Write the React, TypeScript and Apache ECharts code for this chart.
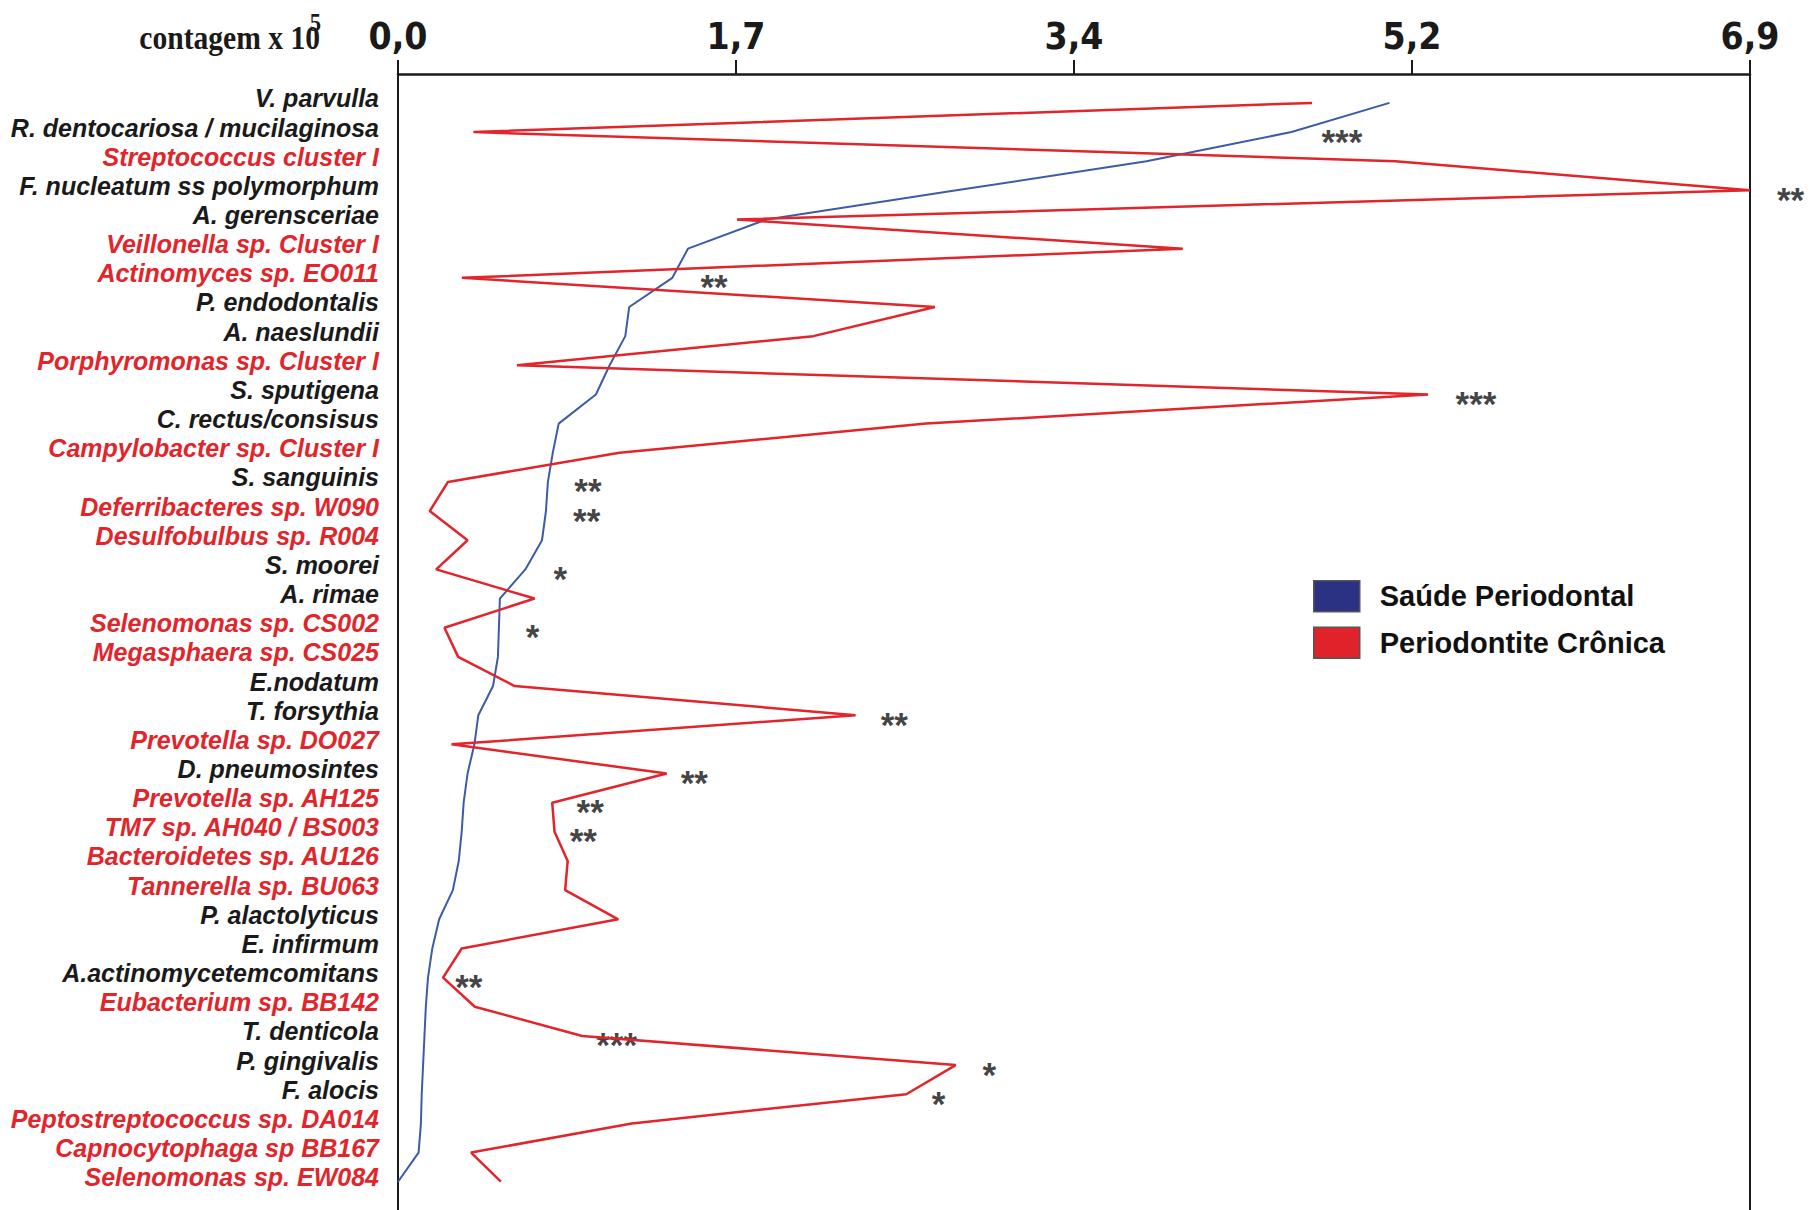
import React, { useEffect, useRef } from "react";
import * as echarts from "echarts";

const categories: string[] = [
  "V. parvulla",
  "R. dentocariosa / mucilaginosa",
  "Streptococcus cluster I",
  "F. nucleatum ss polymorphum",
  "A. gerensceriae",
  "Veillonella sp. Cluster I",
  "Actinomyces sp. EO011",
  "P. endodontalis",
  "A. naeslundii",
  "Porphyromonas sp. Cluster I",
  "S. sputigena",
  "C. rectus/consisus",
  "Campylobacter sp. Cluster I",
  "S. sanguinis",
  "Deferribacteres sp. W090",
  "Desulfobulbus sp. R004",
  "S. moorei",
  "A. rimae",
  "Selenomonas sp. CS002",
  "Megasphaera sp. CS025",
  "E.nodatum",
  "T. forsythia",
  "Prevotella sp. DO027",
  "D. pneumosintes",
  "Prevotella sp. AH125",
  "TM7 sp. AH040 / BS003",
  "Bacteroidetes sp. AU126",
  "Tannerella sp. BU063",
  "P. alactolyticus",
  "E. infirmum",
  "A.actinomycetemcomitans",
  "Eubacterium sp. BB142",
  "T. denticola",
  "P. gingivalis",
  "F. alocis",
  "Peptostreptococcus sp. DA014",
  "Capnocytophaga sp BB167",
  "Selenomonas sp. EW084",
];

const redCategory: boolean[] = [
  false, false, true, false, false, true, true, false, false, true,
  false, false, true, false, true, true, false, false, true, true,
  false, false, true, false, true, true, true, true, false, false,
  false, true, false, false, false, true, true, true,
];

const saudePeriodontal: number[] = [
  5.06, 4.56, 3.82, 2.85, 1.88, 1.48, 1.4, 1.18, 1.16, 1.08,
  1.01, 0.82, 0.79, 0.765, 0.755, 0.735, 0.65, 0.52, 0.515, 0.51,
  0.485, 0.41, 0.39, 0.355, 0.335, 0.325, 0.31, 0.28, 0.21, 0.175,
  0.153, 0.142, 0.135, 0.128, 0.121, 0.117, 0.105, 0.0,
];

const periodontiteCronica: number[] = [
  4.665, 0.385, 5.09, 6.9, 1.73, 4.005, 0.326, 2.74, 2.12, 0.607,
  5.257, 2.696, 1.13, 0.255, 0.162, 0.355, 0.195, 0.697, 0.237, 0.307,
  0.595, 2.335, 0.273, 1.371, 0.787, 0.799, 0.866, 0.853, 1.124, 0.325,
  0.23, 0.392, 0.94, 2.846, 2.594, 1.193, 0.373, 0.525,
];

const xTickLabels: string[] = ["0,0", "1,7", "3,4", "5,2", "6,9"];

const annotationRows: number[] = [2, 4, 7, 11, 14, 15, 17, 19, 22, 24, 25, 26, 31, 33, 34, 35];
const annotationValues: number[] = [
  4.71, 7.035, 1.541, 5.395, 0.897, 0.891, 0.791, 0.649, 2.461, 1.44, 0.909, 0.874, 0.289, 1.009, 2.981, 2.721,
];
const annotationMarks: string[] = [
  "***", "**", "**", "***", "**", "**", "*", "*", "**", "**", "**", "**", "**", "***", "*", "*",
];

const SANS = '"Liberation Sans", Arial, Helvetica, sans-serif';
const NARROW = '"Liberation Sans Narrow", "DejaVu Sans Condensed", "Arial Narrow", sans-serif';
const SERIF = '"Liberation Serif", "Times New Roman", serif';
const INK = "#1a1a1a";
const RED = "#e2242b";
const BLUE = "#3d5ba6";

export default function App() {
  const ref = useRef<HTMLDivElement>(null);

  useEffect(() => {
    if (!ref.current) return;
    const chart = echarts.init(ref.current, null, { renderer: "svg" });
    const xMax = 6.9;
    const step = xMax / 4;
    const labelStyle = {
      fontFamily: SANS,
      fontStyle: "italic",
      fontWeight: "bold",
      fontSize: 25,
    };
    chart.setOption({
      animation: false,
      backgroundColor: "#ffffff",
      grid: [
        { left: 398, right: 63, top: 74, bottom: 0 },
        { left: 398, right: 63, top: 88.3, bottom: 13.7 },
      ],
      xAxis: [
        {
          gridIndex: 0,
          type: "value",
          position: "top",
          min: 0,
          max: xMax,
          interval: step,
          axisLine: { show: true, onZero: false, lineStyle: { color: INK, width: 2.5 } },
          axisTick: { show: true, length: 14, lineStyle: { color: INK, width: 2 } },
          axisLabel: {
            formatter: (v: number) => xTickLabels[Math.round(v / step)] ?? "",
            fontFamily: NARROW,
            fontWeight: "bold",
            fontSize: 37,
            color: INK,
            margin: 19,
          },
          splitLine: { show: false },
        },
        { gridIndex: 1, type: "value", min: 0, max: xMax, show: false },
      ],
      yAxis: [
        {
          gridIndex: 0,
          type: "value",
          position: "left",
          axisLine: { show: true, onZero: false, lineStyle: { color: INK, width: 2 } },
          axisTick: { show: false },
          axisLabel: { show: false },
          splitLine: { show: false },
        },
        {
          gridIndex: 0,
          type: "value",
          position: "right",
          axisLine: { show: true, onZero: false, lineStyle: { color: INK, width: 2 } },
          axisTick: { show: false },
          axisLabel: { show: false },
          splitLine: { show: false },
        },
        {
          gridIndex: 1,
          type: "category",
          inverse: true,
          data: categories,
          axisLine: { show: false },
          axisTick: { show: false },
          splitLine: { show: false },
          axisLabel: {
            margin: 19,
            interval: 0,
            padding: [0, 0, 9, 0],
            formatter: (v: string, i: number) => (redCategory[i] ? `{r|${v}}` : `{k|${v}}`),
            rich: {
              r: { ...labelStyle, color: RED },
              k: { ...labelStyle, color: INK },
            },
          },
        },
      ],
      legend: {
        orient: "vertical",
        left: 1308,
        top: 575,
        itemWidth: 46,
        itemHeight: 31,
        itemGap: 14,
        selectedMode: false,
        data: [
          {
            name: "Saúde Periodontal",
            icon: "rect",
            itemStyle: { color: "#2b3183", borderColor: "#555555", borderWidth: 1.5 },
          },
          {
            name: "Periodontite Crônica",
            icon: "rect",
            itemStyle: { color: "#e0232b", borderColor: "#555555", borderWidth: 1.5 },
          },
        ],
        textStyle: {
          fontFamily: SANS,
          fontWeight: "bold",
          fontSize: 29,
          color: "#111111",
          padding: [0, 0, 0, 15],
        },
      },
      graphic: [
        {
          type: "text",
          x: 320,
          y: 38,
          scaleX: 0.87,
          style: {
            text: "contagem x 10",
            font: `bold 34px ${SERIF}`,
            fill: INK,
            align: "right",
            verticalAlign: "middle",
          },
        },
        {
          type: "text",
          x: 321,
          y: 22,
          scaleX: 0.87,
          style: {
            text: "5",
            font: `bold 26px ${SERIF}`,
            fill: INK,
            align: "right",
            verticalAlign: "middle",
          },
        },
      ],
      series: [
        {
          name: "Saúde Periodontal",
          type: "line",
          xAxisIndex: 1,
          yAxisIndex: 2,
          symbol: "none",
          itemStyle: { color: "#2b3183" },
          lineStyle: { color: BLUE, width: 2 },
          data: saudePeriodontal.map((v, i) => [v, categories[i]]),
          silent: true,
        },
        {
          name: "Periodontite Crônica",
          type: "line",
          xAxisIndex: 1,
          yAxisIndex: 2,
          symbol: "none",
          itemStyle: { color: RED },
          lineStyle: { color: RED, width: 2.5 },
          data: periodontiteCronica.map((v, i) => [v, categories[i]]),
          silent: true,
        },
        {
          name: "significância",
          type: "scatter",
          xAxisIndex: 1,
          yAxisIndex: 2,
          clip: false,
          symbolSize: 1,
          itemStyle: { color: "rgba(0,0,0,0)" },
          silent: true,
          data: annotationRows.map((r, i) => [annotationValues[i], categories[r - 1]]),
          label: {
            show: true,
            position: "right",
            distance: 0,
            offset: [0, 9],
            lineHeight: 20,
            formatter: (p: any) => annotationMarks[p.dataIndex],
            fontFamily: SANS,
            fontWeight: "bold",
            fontSize: 35,
            color: "#111111",
          },
        },
      ],
    });
    return () => chart.dispose();
  }, []);

  return (
    <div
      ref={ref}
      style={{ position: "absolute", left: 0, top: 0, width: 1813, height: 1210, background: "#ffffff" }}
    />
  );
}
